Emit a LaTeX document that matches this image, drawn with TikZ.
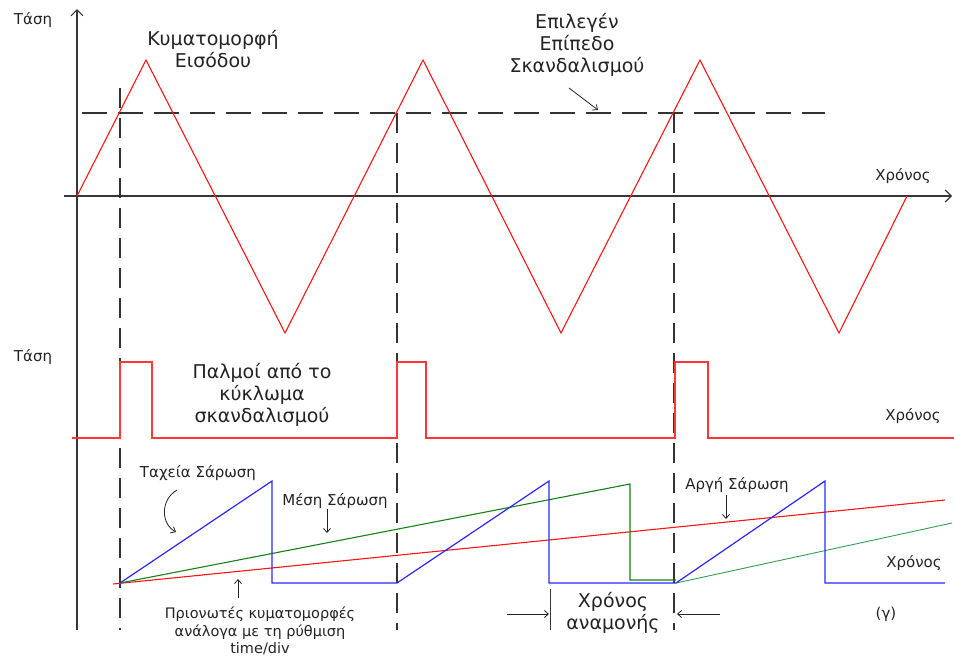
\documentclass[tikz,border=0pt]{standalone}
\usepackage{fontspec}
\setmainfont{DejaVu Sans}
\usetikzlibrary{arrows.meta}
\definecolor{axisgray}{RGB}{55,55,55}
\definecolor{txtgray}{RGB}{35,35,35}
\definecolor{wred}{RGB}{255,20,20}
\definecolor{wblue}{RGB}{40,40,255}
\definecolor{wgreen}{RGB}{20,130,20}
\definecolor{lgreen}{RGB}{50,160,80}
\begin{document}
\begin{tikzpicture}[x=1pt,y=-1pt,
  axis/.style={draw=axisgray, line width=1.1pt},
  axarrow/.style={axis, -{Straight Barb[length=6pt,width=12pt]}},
  dashh/.style={draw=black!80, line width=1.1pt, dash pattern=on 25pt off 11pt},
  dashv/.style={draw=black!80, line width=1.1pt, dash pattern=on 20pt off 10pt},
  redw/.style={draw=wred, line width=1.1pt, line join=miter},
  bluew/.style={draw=wblue, line width=1.2pt, line join=miter},
  greenw/.style={draw=wgreen, line width=1.1pt, line join=miter},
  greenl/.style={draw=lgreen, line width=0.9pt},
  pulse/.style={draw=wred!85, line width=1.5pt, line join=miter},
  ptr/.style={draw=txtgray, line width=0.8pt, -{Straight Barb[length=4pt,width=7pt]}},
  smalltxt/.style={text=txtgray, inner sep=0pt, align=center, font=\fontsize{15}{18}\selectfont},
  bigtxt/.style={text=txtgray, inner sep=0pt, align=center, font=\fontsize{19}{22}\selectfont},
  midtxt/.style={text=txtgray, inner sep=0pt, align=center, font=\fontsize{14.5}{17.5}\selectfont}
]
\useasboundingbox (0,0) rectangle (954,657);

% axes
\coordinate (ybot) at (77,630);
\coordinate (ytop) at (77,9);
\coordinate (xleft) at (64,196);
\coordinate (xright) at (952,196);
\draw[axarrow] (ybot) -- (ytop);
\draw[axarrow] (xleft) -- (xright);

% trigger level
\coordinate (tl1) at (82,113);
\coordinate (tl2) at (825,113);
\draw[dashh] (tl1) -- (tl2);

% vertical dashed markers
\coordinate (v1t) at (120,88);
\coordinate (v1b) at (120,630);
\coordinate (v2t) at (397,113);
\coordinate (v2b) at (397,630);
\coordinate (v3t) at (674,113);
\coordinate (v3b) at (674,630);
\draw[dashv] (v1t) -- (v1b);
\draw[dashv] (v2t) -- (v2b);
\draw[dashv] (v3t) -- (v3b);

% input triangle wave
\draw[redw] (77,196) -- (146,60) -- (285,333) -- (423,60) -- (561,333) -- (700,60) -- (839,333) -- (907,196);

% trigger pulses
\draw[pulse] (72,438) -- (120,438) -- (120,362) -- (152,362) -- (152,438)
  -- (397,438) -- (397,362) -- (426,362) -- (426,438)
  -- (675,438) -- (675,362) -- (708,362) -- (708,438) -- (954,438);

% sweeps
\draw[redw] (113,584) -- (945,500);
\draw[greenw] (120,583) -- (630,484) -- (630,580) -- (676,580);
\draw[greenl] (676,583) -- (952,523);
\draw[bluew] (120,583) -- (272,481) -- (272,583) -- (397,583) -- (549,481) -- (549,583)
  -- (676,583) -- (825,481) -- (825,583) -- (945,583);

% labels top
\node[smalltxt] (tasi1) at (33,20) {Τάση};
\node[bigtxt] (input) at (213,49) {Κυματομορφή\\Εισόδου};
\node[bigtxt] (level) at (577,45) {Επιλεγέν\\Επίπεδο\\Σκανδαλισμού};
\coordinate (lvlA) at (569,88);
\coordinate (lvlB) at (598,110);
\draw[ptr] (lvlA) -- (lvlB);
\node[smalltxt] (chr1) at (903,176) {Χρόνος};

% labels pulses
\node[smalltxt] (tasi2) at (33,357) {Τάση};
\node[bigtxt] (pulses) at (262,395) {Παλμοί από το\\κύκλωμα\\σκανδαλισμού};
\node[smalltxt] (chr2) at (913,416) {Χρόνος};

% labels sweeps
\node[smalltxt] (fast) at (198,473) {Ταχεία Σάρωση};
\coordinate (fastA) at (177,490);
\coordinate (fastB) at (176,532);
\draw[ptr] (fastA) .. controls (160,500) and (161,524) .. (fastB);
\node[smalltxt] (mid) at (335,501) {Μέση Σάρωση};
\coordinate (midA) at (327,509);
\coordinate (midB) at (327,533);
\draw[ptr] (midA) -- (midB);
\node[smalltxt] (slow) at (737,485) {Αργή Σάρωση};
\coordinate (slowA) at (726,495);
\coordinate (slowB) at (726,519);
\draw[ptr] (slowA) -- (slowB);
\coordinate (sawA) at (238,598);
\coordinate (sawB) at (238,579);
\draw[ptr] (sawA) -- (sawB);
\node[midtxt] (saw) at (260,631) {Πριονωτές κυματομορφές\\ανάλογα με τη ρύθμιση\\time/div};
\node[smalltxt] (chr3) at (914,563) {Χρόνος};

% hold-off
\coordinate (hoT) at (550,589);
\coordinate (hoB) at (550,630);
\draw[axis, line width=1pt] (hoT) -- (hoB);
\coordinate (hoL) at (507,614);
\coordinate (hoR) at (720,614);
\coordinate (hoLe) at (549,614);
\coordinate (hoRe) at (677,614);
\draw[ptr] (hoL) -- (hoLe);
\draw[ptr] (hoR) -- (hoRe);
\node[bigtxt] (hold) at (613,613) {Χρόνος\\αναμονής};
\node[smalltxt] (gamma) at (886,614) {(γ)};
\end{tikzpicture}
\end{document}
